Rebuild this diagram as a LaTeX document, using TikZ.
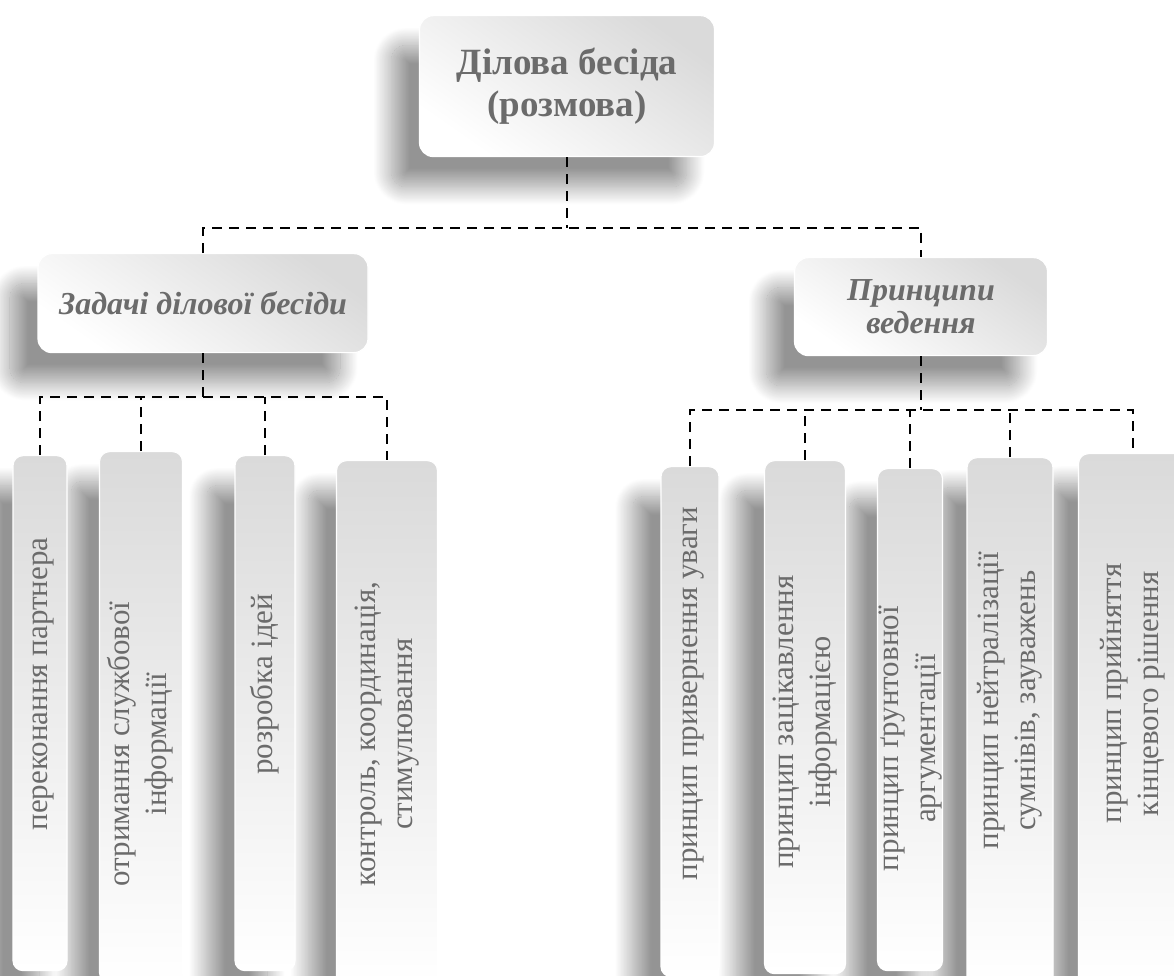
\documentclass[tikz,border=0pt]{standalone}
\usepackage{fontspec}
\setmainfont{Liberation Serif}
\usetikzlibrary{shadows.blur}

\definecolor{txtgray}{HTML}{6B6B6B}
\definecolor{boxgray}{HTML}{DADADA}

% vertical text, read from bottom to top
\newcommand{\vt}[1]{\rotatebox{90}{\begin{tabular}{@{}c@{}}#1\end{tabular}}}

\tikzset{
  box/.style={draw=white, line width=1.2pt, rounded corners=14pt, inner sep=0pt, anchor=north,
    top color=boxgray, bottom color=white, shading angle=-35,
    blur shadow={shadow xshift=-28pt, shadow yshift=-30pt, shadow blur radius=18pt,
      shadow blur steps=30, shadow opacity=42}},
  head/.style={box, text=txtgray, align=center, font=\fontsize{37}{42}\selectfont\bfseries},
  topic/.style={box, text=txtgray, align=center, font=\fontsize{32}{33}\selectfont\bfseries\itshape},
  leaf/.style={box, rounded corners=10pt, shading angle=0},
  ltext/.style={text=txtgray, font=\fontsize{31}{37}\selectfont, inner sep=0pt},
  conn/.style={line width=2.8pt, dash pattern=on 10pt off 7pt}
}

\begin{document}
\begin{tikzpicture}[x=1pt, y=-1pt]
\useasboundingbox (0,0) rectangle (1174,976);

% top
\node[head, minimum width=295pt, minimum height=141pt] (talk) at (567,15) {Ділова бесіда\\(розмова)};

% second level
\node[topic, minimum width=330pt, minimum height=99pt] (tasks) at (203,253) {Задачі ділової бесіди};
\node[topic, minimum width=253pt, minimum height=98pt] (rules) at (921,257) {Принципи\\ведення};

% tasks (right to left, so a shadow stays behind its left neighbour)
\node[leaf, minimum width=101pt, minimum height=525pt,
  label={[ltext, yshift=-11pt]center:\vt{контроль, координація,\\стимулювання}}] (t4) at (387,460) {};
\node[leaf, minimum width=60pt, minimum height=515pt,
  label={[ltext, yshift=29pt]center:\vt{розробка ідей}}] (t3) at (265,455) {};
\node[leaf, minimum width=83pt, minimum height=531pt,
  label={[ltext, yshift=-27pt]center:\vt{отримання службової\\інформації}}] (t2) at (141,451) {};
\node[leaf, minimum width=54pt, minimum height=515pt,
  label={[ltext, yshift=29pt]center:\vt{переконання партнера}}] (t1) at (40,455) {};

% principles
\node[leaf, minimum width=109pt, minimum height=532pt,
  label={[ltext, yshift=26pt]center:\vt{принцип прийняття\\кінцевого рішення}}] (p5) at (1133,453) {};
\node[leaf, minimum width=86pt, minimum height=528pt,
  label={[ltext, yshift=21pt]center:\vt{принцип нейтралізації\\сумнівів, зауважень}}] (p4) at (1010,457) {};
\node[leaf, minimum width=65pt, minimum height=502pt,
  label={[ltext, yshift=-19pt]center:\vt{принцип ґрунтовної\\аргументації}}] (p3) at (910,468) {};
\node[leaf, minimum width=81pt, minimum height=513pt,
  label={[ltext, yshift=-5pt]center:\vt{принцип зацікавлення\\інформацією}}] (p2) at (805,460) {};
\node[leaf, minimum width=58pt, minimum height=510pt,
  label={[ltext, yshift=28pt]center:\vt{принцип привернення уваги}}] (p1) at (690,466) {};

% connectors
\coordinate (bus0) at (0,228);
\coordinate (bus1) at (0,397);
\coordinate (bus2) at (0,410);

\draw[conn] (talk.south) -- (talk.south |- bus0);
\draw[conn] (tasks.north) -- (tasks.north |- bus0) -| (rules.north);

\draw[conn] (tasks.south) -- (tasks.south |- bus1);
\draw[conn] (t1.north) -- (t1.north |- bus1) -| (t4.north);
\foreach \n in {t2,t3}
  \draw[conn] (\n.north) -- (\n.north |- bus1);

\draw[conn] (rules.south) -- (rules.south |- bus2);
\draw[conn] (p1.north) -- (p1.north |- bus2) -| (p5.north);
\foreach \n in {p2,p3,p4}
  \draw[conn] (\n.north) -- (\n.north |- bus2);
\end{tikzpicture}
\end{document}
